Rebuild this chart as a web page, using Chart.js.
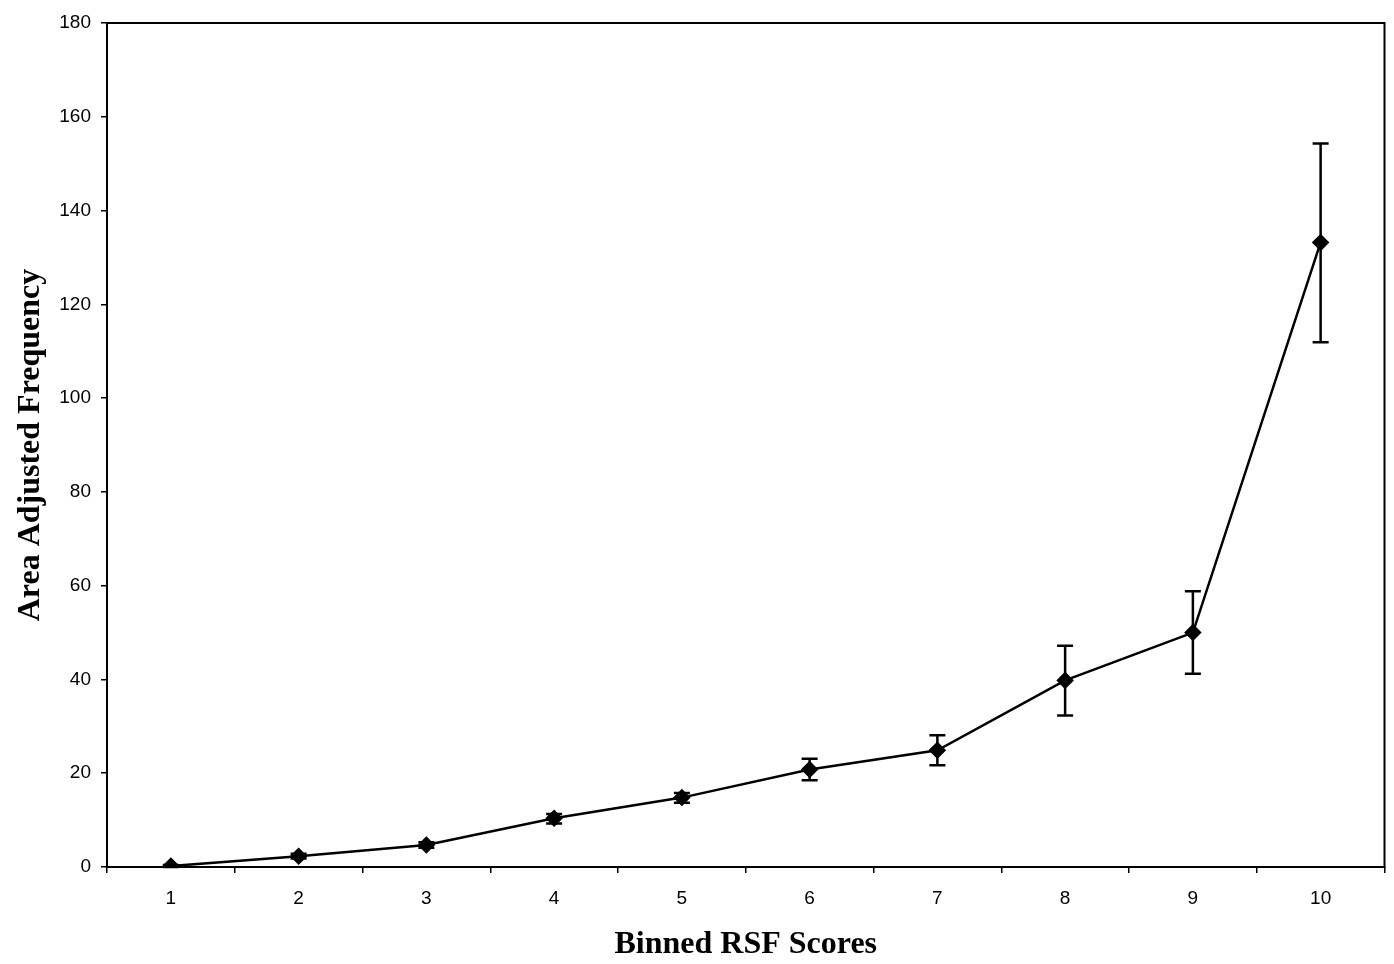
<!DOCTYPE html>
<html>
<head>
<meta charset="utf-8">
<script src="https://cdn.jsdelivr.net/npm/chart.js@4.4.1/dist/chart.umd.min.js"></script>
<style>
html,body{margin:0;padding:0;background:#fff;}
#wrap{width:1394px;height:964px;position:relative;}
</style>
</head>
<body>
<div id="wrap"><canvas id="c" width="1394" height="964"></canvas></div>
<script>
const categories = ['1','2','3','4','5','6','7','8','9','10'];
const values = [0.2, 2.3, 4.7, 10.4, 14.8, 20.8, 24.9, 39.8, 50.0, 133.2];
const errLow = [0.0, 1.8, 4.1, 9.3, 13.7, 18.5, 21.7, 32.3, 41.2, 111.9];
const errHigh = [0.4, 2.8, 5.3, 11.3, 15.8, 23.1, 28.1, 47.2, 58.8, 154.3];
const yTicks = [0, 20, 40, 60, 80, 100, 120, 140, 160, 180];

const errorBars = {
  id: 'errorBars',
  afterDatasetsDraw(chart) {
    const ctx = chart.ctx, xs = chart.scales.x, ys = chart.scales.y;
    ctx.save();
    ctx.strokeStyle = '#000';
    ctx.lineWidth = 2.5;
    for (let i = 0; i < values.length; i++) {
      const x = xs.getPixelForValue(i);
      const yl = ys.getPixelForValue(errLow[i]);
      const yh = ys.getPixelForValue(errHigh[i]);
      if (Math.abs(yl - yh) < 1) continue;
      ctx.beginPath();
      ctx.moveTo(x, yl); ctx.lineTo(x, yh);
      ctx.moveTo(x - 8, yl); ctx.lineTo(x + 8, yl);
      ctx.moveTo(x - 8, yh); ctx.lineTo(x + 8, yh);
      ctx.stroke();
    }
    ctx.restore();
  }
};
const frame = {
  id: 'frame',
  beforeDatasetsDraw(chart) {
    const a = chart.chartArea, ctx = chart.ctx;
    ctx.save();
    ctx.strokeStyle = '#000';
    ctx.lineWidth = 2;
    ctx.strokeRect(a.left, a.top, a.right - a.left, a.bottom - a.top);
    ctx.restore();
  }
};

new Chart(document.getElementById('c'), {
  type: 'line',
  data: {
    labels: categories,
    datasets: [{
      data: values,
      borderColor: '#000',
      backgroundColor: '#000',
      borderWidth: 2.5,
      pointStyle: 'rectRot',
      pointRadius: 7,
      pointHoverRadius: 7,
      tension: 0,
      fill: false
    }]
  },
  options: {
    responsive: false,
    animation: false,
    layout: { padding: { top: 23, right: 7, left: 0, bottom: 0 } },
    plugins: { legend: { display: false }, tooltip: { enabled: false } },
    scales: {
      x: {
        type: 'category',
        offset: true,
        grid: { offset: true, drawOnChartArea: false, color: '#000', tickLength: 6, lineWidth: 1.5 },
        border: { color: '#000', width: 2 },
        ticks: { color: '#000', font: { family: 'Liberation Sans', size: 19 }, padding: 14, maxRotation: 0 },
        title: { display: true, text: 'Binned RSF Scores', color: '#000',
          font: { family: 'Liberation Serif', size: 32, weight: 'bold' }, padding: { top: 0, bottom: 0 } },
        afterFit(s) { s.height = 97; }
      },
      y: {
        min: 0, max: 180,
        afterBuildTicks(s) { s.ticks = yTicks.map(v => ({ value: v })); },
        grid: { drawOnChartArea: false, color: '#000', tickLength: 6, lineWidth: 1.5 },
        border: { color: '#000', width: 2 },
        ticks: { color: '#000', font: { family: 'Liberation Sans', size: 19 }, padding: 10 },
        title: { display: true, text: 'Area Adjusted Frequency', color: '#000',
          font: { family: 'Liberation Serif', size: 32, weight: 'bold' }, padding: { top: 12, bottom: 0 } },
        afterFit(s) { s.width = 107; }
      }
    }
  },
  plugins: [frame, errorBars]
});
</script>
</body>
</html>
